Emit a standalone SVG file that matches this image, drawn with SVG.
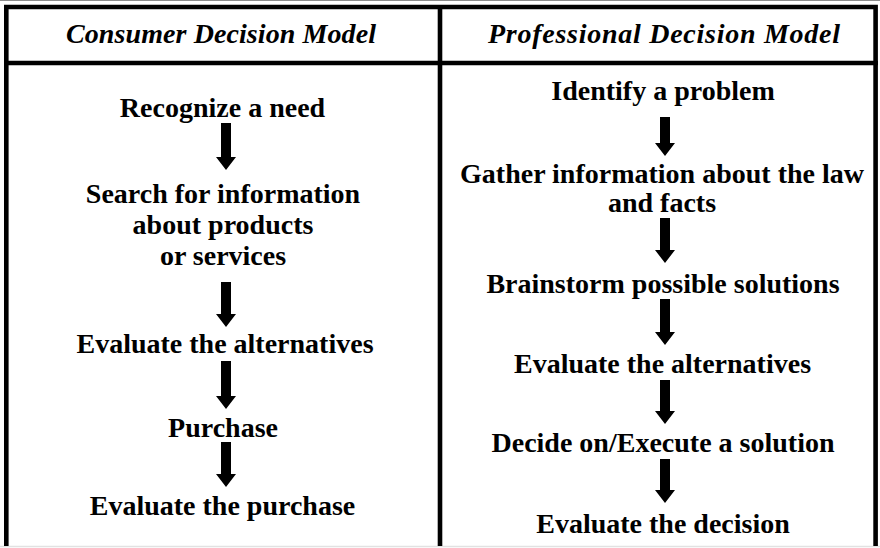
<svg xmlns="http://www.w3.org/2000/svg" width="880" height="548" viewBox="0 0 880 548">
<style>
.frame{stroke:#000;stroke-width:4.6;fill:none}
.t{font-family:"Liberation Serif","Times New Roman",serif;font-weight:bold;font-size:28px;fill:#000;text-anchor:middle}
.h{font-family:"Liberation Serif","Times New Roman",serif;font-weight:bold;font-style:italic;font-size:28px;fill:#000;text-anchor:middle}
.arrow{fill:#000;stroke:none}
</style>
<rect x="0" y="0" width="880" height="548" fill="#fff"/>
<line x1="0" y1="0.5" x2="880" y2="0.5" stroke="#8c8c8c" stroke-width="1"/>
<line x1="0" y1="546.5" x2="880" y2="546.5" stroke="#e2e2e2" stroke-width="1.5"/>
<g id="frame">
<path class="frame" d="M6.3,546 V7 H875.6 V546 M4,63 H878 M440,7 V546"/>
</g>
<g id="header-consumer"><text class="h" x="221" y="43" textLength="310" lengthAdjust="spacing">Consumer Decision Model</text></g>
<g id="header-professional"><text class="h" x="664" y="43" textLength="352" lengthAdjust="spacing">Professional Decision Model</text></g>

<g id="c1"><text class="t" x="222.5" y="117">Recognize a need</text></g>
<g id="c2"><text class="t" x="223" y="203">Search for information</text><text class="t" x="223" y="234">about products</text><text class="t" x="223" y="265">or services</text></g>
<g id="c3"><text class="t" x="225" y="353">Evaluate the alternatives</text></g>
<g id="c4"><text class="t" x="223" y="437">Purchase</text></g>
<g id="c5"><text class="t" x="222.5" y="515">Evaluate the purchase</text></g>

<g id="p1"><text class="t" x="663" y="100">Identify a problem</text></g>
<g id="p2"><text class="t" x="662" y="183">Gather information about the law</text><text class="t" x="662" y="212">and facts</text></g>
<g id="p3"><text class="t" x="663" y="293">Brainstorm possible solutions</text></g>
<g id="p4"><text class="t" x="662.5" y="373">Evaluate the alternatives</text></g>
<g id="p5"><text class="t" x="663" y="452">Decide on/Execute a solution</text></g>
<g id="p6"><text class="t" x="663" y="533">Evaluate the decision</text></g>

<g id="connectors">
<path class="arrow" d="M221,123 H231 V157 H236 L226,170 L216,157 H221 Z"/>
<path class="arrow" d="M221,282 H231 V314 H236 L226,327 L216,314 H221 Z"/>
<path class="arrow" d="M221,361 H231 V396 H236 L226,409 L216,396 H221 Z"/>
<path class="arrow" d="M221,442 H231 V474 H236 L226,487 L216,474 H221 Z"/>
<path class="arrow" d="M660,117 H670 V143 H675 L665,156 L655,143 H660 Z"/>
<path class="arrow" d="M660,218 H670 V250 H675 L665,263 L655,250 H660 Z"/>
<path class="arrow" d="M660,299 H670 V332 H675 L665,345 L655,332 H660 Z"/>
<path class="arrow" d="M660,380 H670 V411 H675 L665,424 L655,411 H660 Z"/>
<path class="arrow" d="M660,459 H670 V490 H675 L665,503 L655,490 H660 Z"/>
</g>
</svg>
